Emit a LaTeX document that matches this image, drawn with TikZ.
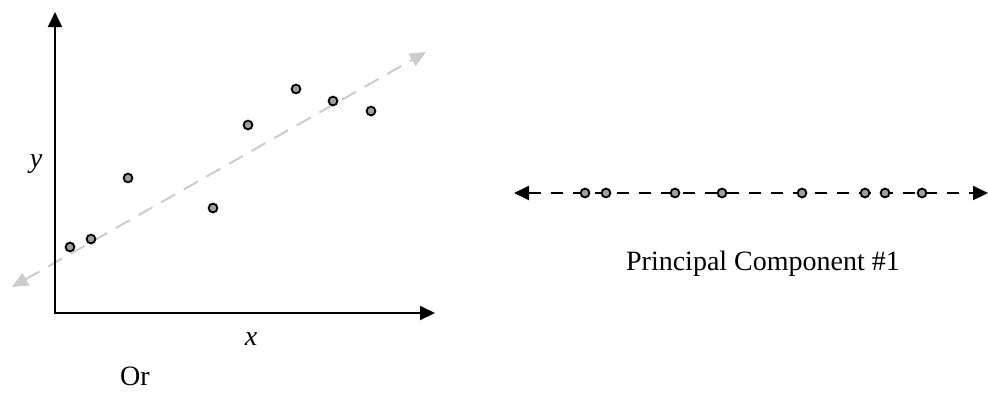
\documentclass[tikz,border=0pt]{standalone}
\usepackage{fontspec}
\setmainfont{Liberation Serif}
\usetikzlibrary{arrows.meta}

\tikzset{
  tip/.style={Triangle[length=15pt,width=14pt]},
  datadot/.style={fill=gray!75, draw=black, line width=1.8pt},
  lbl/.style={anchor=base, inner sep=0pt, font=\fontsize{28}{32}\selectfont}
}

\begin{document}
\begin{tikzpicture}[x=1pt,y=-1pt]
\useasboundingbox (0,0) rectangle (988,392);
% scatter plot
\coordinate (O) at (55,313);
\coordinate (ytop) at (55,12);
\coordinate (xend) at (435,313);
\coordinate (fitlo) at (12,287);
\coordinate (fithi) at (426,52);
\draw [dash pattern=on 16pt off 10pt, gray!40, line width=2pt, {Triangle[length=16pt,width=14pt]}-{Triangle[length=16pt,width=14pt]}] (fitlo) -- (fithi);
\draw [{Triangle[length=15pt,width=14pt]}-{Triangle[length=15pt,width=14pt]}, black, line width=2pt] (ytop) -- (O) -- (xend);
\foreach \x/\y in {70/247, 91/239, 128/178, 213/208, 248/125, 296/89, 333/101, 371/111}
     		\draw[datadot] (\x,\y) circle [radius=4.4pt];
\node[lbl] (ylab) at (36,167) {\itshape y};
\node[lbl] (xlab) at (251,345) {\itshape x};
\node[lbl] (orlab) at (135,385) {Or};
% projected points
\coordinate (pclo) at (514,193);
\coordinate (pchi) at (988,193);
\draw [dash pattern=on 12pt off 10pt, black, line width=2pt, {Triangle[length=15pt,width=14pt]}-{Triangle[length=15pt,width=14pt]}] (pclo) -- (pchi);
\foreach \x in {585, 606, 675, 722, 802, 865, 885, 922}
     		\draw[datadot] (\x,193) circle [radius=4.4pt];
\node[lbl] (pclab) at (763,270) {Principal Component \#1};
\end{tikzpicture}
\end{document}
